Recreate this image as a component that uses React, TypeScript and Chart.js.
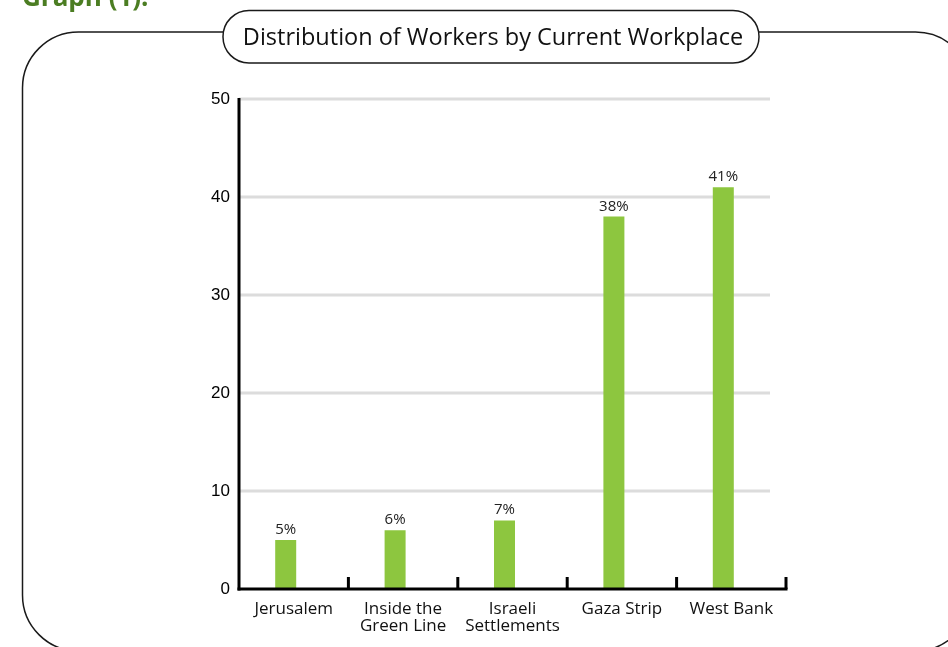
import React, { useEffect, useRef } from "react";
import { Chart, registerables } from "chart.js";

Chart.register(...registerables);

// ---- data ----
const categories: string[][] = [
  ["Jerusalem"],
  ["Inside the", "Green Line"],
  ["Israeli", "Settlements"],
  ["Gaza Strip"],
  ["West Bank"],
];
const workerShares: number[] = [5, 6, 7, 38, 41];
const yTickMin = 0;
const yTickMax = 50;
const yTickStep = 10;
const chartTitle = "Distribution of Workers by Current Workplace";
const pageHeading = "Graph (1):";

function roundRectPath(ctx: CanvasRenderingContext2D, x: number, y: number, w: number, h: number, r: number) {
  ctx.beginPath();
  ctx.moveTo(x + r, y);
  ctx.lineTo(x + w - r, y);
  ctx.arcTo(x + w, y, x + w, y + r, r);
  ctx.lineTo(x + w, y + h - r);
  ctx.arcTo(x + w, y + h, x + w - r, y + h, r);
  ctx.lineTo(x + r, y + h);
  ctx.arcTo(x, y + h, x, y + h - r, r);
  ctx.lineTo(x, y + r);
  ctx.arcTo(x, y, x + r, y, r);
  ctx.closePath();
}

const decorPlugin = {
  id: "decor",
  beforeDraw(chart: any) {
    const ctx: CanvasRenderingContext2D = chart.ctx;
    ctx.save();
    ctx.fillStyle = "#ffffff";
    ctx.fillRect(0, 0, chart.width, chart.height);

    // heading (cut off at the top)
    ctx.fillStyle = "#4b7d22";
    ctx.font = "bold 26px 'Open Sans'";
    ctx.textAlign = "left";
    ctx.textBaseline = "alphabetic";
    ctx.fillText(pageHeading, 22, 6);

    // outer rounded frame
    ctx.strokeStyle = "#1a1a1a";
    ctx.lineWidth = 1.5;
    roundRectPath(ctx, 22.5, 32, 949, 619, 56);
    ctx.stroke();

    // title pill
    roundRectPath(ctx, 223, 10.5, 536, 52.5, 26);
    ctx.fillStyle = "#ffffff";
    ctx.fill();
    ctx.stroke();

    ctx.fillStyle = "#111111";
    ctx.font = "23.5px 'Open Sans'";
    ctx.textAlign = "center";
    ctx.textBaseline = "middle";
    ctx.fillText(chartTitle, 493, 38);
    ctx.restore();
  },
  beforeDatasetsDraw(chart: any) {
    const ctx: CanvasRenderingContext2D = chart.ctx;
    const { left, right } = chart.chartArea;
    const yScale = chart.scales.y;
    ctx.save();
    ctx.strokeStyle = "#dcdcdc";
    ctx.lineWidth = 3;
    yScale.ticks.forEach((t: any) => {
      if (t.value <= yTickMin) return;
      const y = yScale.getPixelForValue(t.value);
      ctx.beginPath();
      ctx.moveTo(left, y);
      ctx.lineTo(right - 16, y);
      ctx.stroke();
    });
    ctx.restore();
  },
  afterDatasetsDraw(chart: any) {
    const ctx: CanvasRenderingContext2D = chart.ctx;
    const { left, right, top, bottom } = chart.chartArea;
    ctx.save();
    ctx.strokeStyle = "#000000";
    ctx.lineWidth = 3;
    // y axis
    ctx.beginPath();
    ctx.moveTo(left, top - 1);
    ctx.lineTo(left, bottom + 1.5);
    ctx.stroke();
    // x axis
    ctx.beginPath();
    ctx.moveTo(left - 1.5, bottom);
    ctx.lineTo(right + 1.5, bottom);
    ctx.stroke();
    // category boundary ticks (pointing up)
    const n = categories.length;
    const w = (right - left) / n;
    for (let i = 1; i <= n; i++) {
      const x = left + i * w;
      ctx.beginPath();
      ctx.moveTo(x, bottom);
      ctx.lineTo(x, bottom - 12);
      ctx.stroke();
    }
    // value labels
    const meta = chart.getDatasetMeta(0);
    ctx.fillStyle = "#222222";
    ctx.font = "15px 'Open Sans'";
    ctx.textAlign = "center";
    ctx.textBaseline = "alphabetic";
    meta.data.forEach((bar: any, i: number) => {
      ctx.fillText(workerShares[i] + "%", bar.x, bar.y - 6);
    });
    ctx.restore();
  },
};

export default function App() {
  const canvasRef = useRef<HTMLCanvasElement | null>(null);

  useEffect(() => {
    if (!canvasRef.current) return;
    const chart = new Chart(canvasRef.current, {
      type: "bar",
      data: {
        labels: categories,
        datasets: [
          {
            label: "Workers",
            data: workerShares,
            backgroundColor: "#8dc63f",
            borderWidth: 0,
            categoryPercentage: 0.2925,
            barPercentage: 1.3125,
          },
          {
            label: "",
            data: workerShares.map(() => null),
            backgroundColor: "rgba(0,0,0,0)",
            categoryPercentage: 0.2925,
            barPercentage: 1.3125,
          },
        ],
      },
      options: {
        animation: false,
        responsive: false,
        maintainAspectRatio: false,
        layout: { padding: { top: 99, left: 0, right: 162, bottom: 0 } },
        plugins: {
          legend: { display: false },
          tooltip: { enabled: false },
          title: { display: false },
        },
        scales: {
          x: {
            type: "category",
            grid: { display: false },
            border: { display: false },
            ticks: {
              color: "#111111",
              font: { family: "'Open Sans'", size: 17, lineHeight: 1.02 },
              padding: 3,
              maxRotation: 0,
              autoSkip: false,
            },
            afterFit: (scale: any) => {
              scale.height = 58;
            },
          },
          y: {
            min: yTickMin,
            max: yTickMax,
            grid: { display: false },
            border: { display: false },
            ticks: {
              stepSize: yTickStep,
              color: "#000000",
              font: { family: "'Liberation Sans', Arial", size: 17 },
              padding: 1,
            },
            afterFit: (scale: any) => {
              scale.width = 239;
            },
          },
        },
      },
      plugins: [decorPlugin],
    });
    return () => chart.destroy();
  }, []);

  return (
    <div style={{ position: "absolute", left: 0, top: 0, width: 948, height: 647, background: "#fff" }}>
      <canvas ref={canvasRef} width={948} height={647} style={{ display: "block", width: 948, height: 647 }} />
    </div>
  );
}
